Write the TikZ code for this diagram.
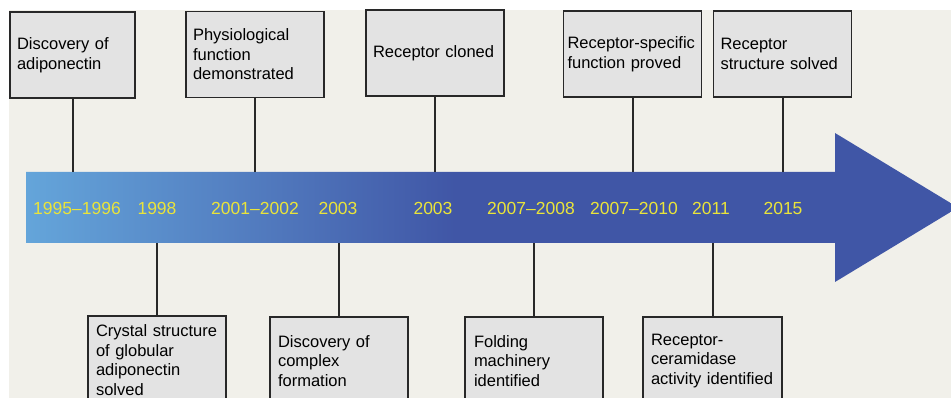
\documentclass[tikz,border=0pt]{standalone}
\usepackage{fontspec}
\setmainfont{Liberation Sans}

\definecolor{PageBg}{RGB}{241,240,234}
\definecolor{BoxFill}{RGB}{227,227,227}
\definecolor{BoxLine}{RGB}{40,40,40}
\definecolor{YearCol}{RGB}{234,228,58}
\definecolor{ArrowLight}{RGB}{100,165,218}
\definecolor{ArrowMid}{RGB}{84,128,194}
\definecolor{ArrowDark}{RGB}{64,86,166}

\pgfdeclarehorizontalshading{ArrowShade}{100bp}{color(0bp)=(ArrowLight); color(25bp)=(ArrowLight); color(36bp)=(ArrowMid); color(48bp)=(ArrowDark); color(100bp)=(ArrowDark)}

\begin{document}
\begin{tikzpicture}[x=1pt, y=-1pt]
      \tikzset{EventStyle/.style = {draw = BoxLine,
          line width = 1.6pt,
          fill  = BoxFill,
          font  = \fontsize{16.5}{19.5}\selectfont,
          align = left,
          text width = 124pt,
          inner xsep = 7pt,
          minimum height = 86pt},
        YearStyle/.style = {text = YearCol,
          font = \fontsize{17.5}{20}\selectfont,
          inner sep = 0pt},
        StemStyle/.style = {draw = BoxLine, line width = 2pt}}
      \useasboundingbox (0,0) rectangle (951,398);
      \clip (0,0) rectangle (951,398);
      \fill[white] (0,0) rectangle (951,398);
      \fill[PageBg] (9,10) rectangle (951,398);
      % timeline arrow
      \shade[shading=ArrowShade] (26,172) -- (835,172) -- (835,133) -- (958,207.5)
        -- (835,282) -- (835,243) -- (26,243) -- cycle;
      \coordinate (ArrowTop) at (0,172);
      \coordinate (ArrowBot) at (0,243);
      % years
      \node[YearStyle] (Y1) at (77,208)  {1995–1996};
      \node[YearStyle] (Y2) at (157,208) {1998};
      \node[YearStyle] (Y3) at (255,208) {2001–2002};
      \node[YearStyle] (Y4) at (338,208) {2003};
      \node[YearStyle] (Y5) at (433,208) {2003};
      \node[YearStyle] (Y6) at (531,208) {2007–2008};
      \node[YearStyle] (Y7) at (634,208) {2007–2010};
      \node[YearStyle] (Y8) at (711,208) {2011};
      \node[YearStyle] (Y9) at (783,208) {2015};
      % events above
      \node[EventStyle, text width = 111pt] (Adipo) at (72.5,55) {Discovery of\\adiponectin};
      \node[EventStyle] (Physio) at (255,54.5) {Physiological\\function\\demonstrated};
      \node[EventStyle] (Clone) at (435,53) {Receptor cloned};
      \node[EventStyle, inner xsep = 4pt, text width = 130pt] (Specific) at (632.5,54) {\mbox{Receptor-specific}\\function proved};
      \node[EventStyle] (Struct) at (782.5,54) {Receptor\\structure solved};
      % events below
      \node[EventStyle, minimum height = 88pt, inner xsep = 8pt, text width = 122pt] (Crystal) at (157,360) {Crystal structure\\of globular\\adiponectin\\solved};
      \node[EventStyle, minimum height = 88pt, inner xsep = 8pt, text width = 122pt] (Complex) at (339,361) {Discovery of\\complex\\formation};
      \node[EventStyle, minimum height = 88pt, inner xsep = 9pt, text width = 120pt] (Fold) at (534,361) {Folding\\machinery\\identified};
      \node[EventStyle, minimum height = 88pt, inner xsep = 8pt, text width = 123pt] (Ceram) at (712.5,361) {Receptor-\\ceramidase\\activity identified};
      % stems
      \foreach \ev in {Adipo,Physio,Clone,Specific,Struct}
        \draw[StemStyle] (\ev.south) -- (\ev.south |- ArrowTop);
      \foreach \ev in {Crystal,Complex,Fold,Ceram}
        \draw[StemStyle] (\ev.north) -- (\ev.north |- ArrowBot);
    \end{tikzpicture}
\end{document}
